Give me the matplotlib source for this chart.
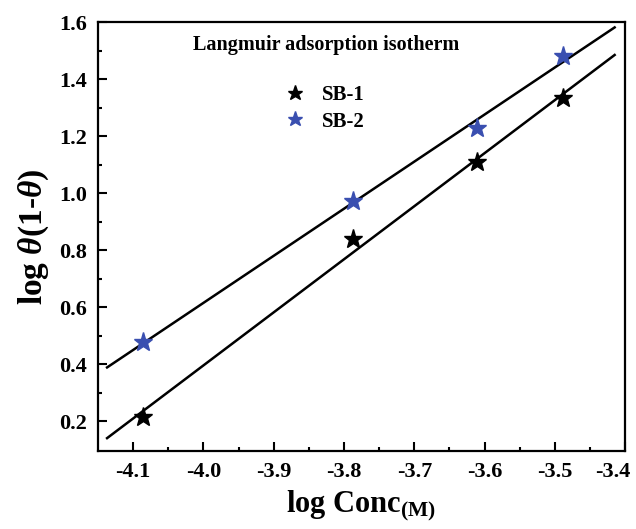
import numpy as np
import matplotlib
matplotlib.use("Agg")
import matplotlib.pyplot as plt
from matplotlib.transforms import ScaledTranslation

# data
log_conc = [-4.086, -3.787, -3.611, -3.489]
sb1 = [0.215, 0.839, 1.109, 1.333]
sb2 = [0.477, 0.972, 1.228, 1.481]
fit_range = [-4.137, -3.415]

plt.rcParams["font.family"] = "Liberation Serif"
plt.rcParams["font.weight"] = "bold"
plt.rcParams["axes.labelweight"] = "bold"
plt.rcParams["mathtext.fontset"] = "custom"
plt.rcParams["mathtext.rm"] = "Liberation Serif:bold"
plt.rcParams["mathtext.it"] = "Liberation Serif:italic:bold"
plt.rcParams["mathtext.bf"] = "Liberation Serif:bold"

fig = plt.figure(figsize=(6.36, 5.29), dpi=100)
ax = fig.add_axes([0.154, 0.147, 0.829, 0.811])

blue = "#3a4fb0"

xs = np.array(fit_range)
for y in (sb1, sb2):
    k, b = np.polyfit(log_conc, y, 1)
    ax.plot(xs, k * xs + b, color="black", lw=1.8, zorder=2)

ax.plot(log_conc, sb1, ls="none", marker="*", ms=14, color="black", label="SB-1", zorder=3)
ax.plot(log_conc, sb2, ls="none", marker="*", ms=14, color=blue, label="SB-2", zorder=3)

ax.set_xlim(-4.15, -3.4)
ax.set_ylim(0.095, 1.6)
ax.set_xticks(np.arange(-4.1, -3.35, 0.1))
ax.set_xticks(np.arange(-4.05, -3.4, 0.1), minor=True)
ax.set_yticks(np.arange(0.2, 1.65, 0.2))
ax.set_yticks(np.arange(0.3, 1.6, 0.2), minor=True)
ax.xaxis.set_major_formatter(plt.FuncFormatter(lambda v, p: f"{v:.1f}"))
ax.yaxis.set_major_formatter(plt.FuncFormatter(lambda v, p: f"{v:.1f}"))

ax.tick_params(which="both", direction="in", width=1.5, labelsize=16, top=False, right=False)
ax.tick_params(which="major", length=6.5, pad=8)
ax.tick_params(which="minor", length=3)
for s in ax.spines.values():
    s.set_linewidth(1.6)

# last x label sits a bit left so it stays inside the picture
last = ax.get_xticklabels()[-1]
last.set_transform(last.get_transform() + ScaledTranslation(-9 / 72, 0, fig.dpi_scale_trans))

ax.set_xlabel(r"log Conc$_{\rm (M)}$", fontsize=22, labelpad=4)
ax.set_ylabel(r"log $\theta$(1-$\theta$)", fontsize=24, labelpad=6)

ax.text(0.433, 0.946, "Langmuir adsorption isotherm", transform=ax.transAxes,
        ha="center", va="center", fontsize=14.5, fontweight="bold")
ax.legend(loc="upper left", bbox_to_anchor=(0.354, 0.853), frameon=False,
          fontsize=15, handlelength=1.0, handletextpad=0.8, labelspacing=0.3,
          borderpad=0, borderaxespad=0, markerscale=0.8)

fig.savefig("out.png", dpi=100)
